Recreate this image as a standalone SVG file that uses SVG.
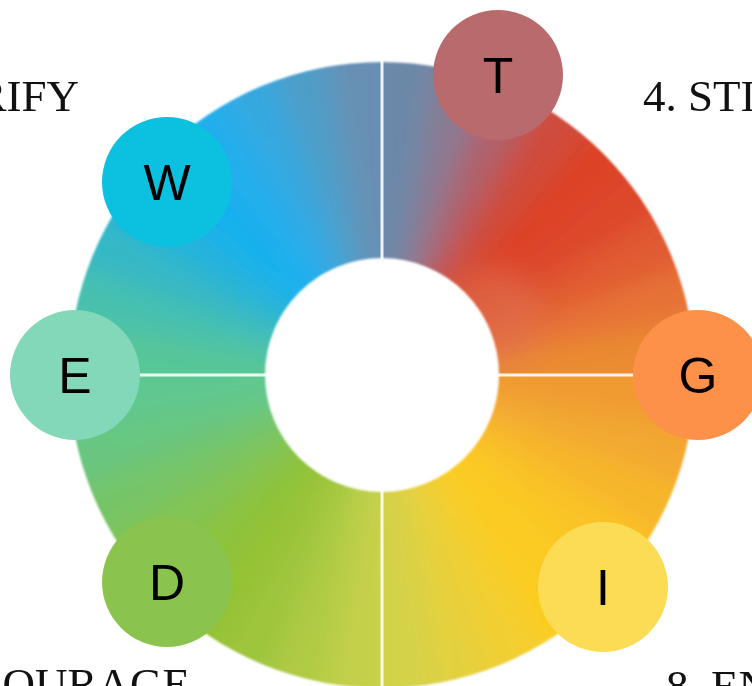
<svg xmlns="http://www.w3.org/2000/svg" width="752" height="686" viewBox="0 0 752 686">
<style>
.lbl{font-family:"Liberation Serif","Times New Roman",serif;font-size:45px;fill:#111}
.let{font-family:"Liberation Sans",Arial,sans-serif;font-size:50px;fill:#000;text-anchor:middle}
.div{stroke:#fff;stroke-width:3;opacity:0.9}
</style>
<defs>
<filter id="blur" x="-20%" y="-20%" width="140%" height="140%"><feGaussianBlur stdDeviation="13"/></filter>
<filter id="soft"><feGaussianBlur stdDeviation="0.8"/></filter>
<clipPath id="cq1"><path d="M382 62 A313 313 0 0 1 695 375 L499 375 A117 117 0 0 0 382 258 Z"/></clipPath>
<clipPath id="cq2"><path d="M695 375 A313 313 0 0 1 382 688 L382 492 A117 117 0 0 0 499 375 Z"/></clipPath>
<clipPath id="cq3"><path d="M382 688 A313 313 0 0 1 69 375 L265 375 A117 117 0 0 0 382 492 Z"/></clipPath>
<clipPath id="cq4"><path d="M69 375 A313 313 0 0 1 382 62 L382 258 A117 117 0 0 0 265 375 Z"/></clipPath>
</defs>
<rect width="752" height="686" fill="#fff"/>

<g id="ring" filter="url(#soft)">
<g clip-path="url(#cq1)"><g filter="url(#blur)">
<path d="M382 375 L202 63.2 L382 15 Z" fill="#6a8aae"/>
<path d="M382 375 L382 15 L444.5 20.5 Z" fill="#6c88a8"/>
<path d="M382 375 L444.5 20.5 L505.1 36.7 Z" fill="#8a7a92"/>
<path d="M382 375 L505.1 36.7 L562 63.2 Z" fill="#b0606a"/>
<path d="M382 375 L562 63.2 L613.4 99.2 Z" fill="#cf4c3a"/>
<path d="M382 375 L613.4 99.2 L657.8 143.6 Z" fill="#dc4228"/>
<path d="M382 375 L657.8 143.6 L693.8 195 Z" fill="#dd4629"/>
<path d="M382 375 L693.8 195 L720.3 251.9 Z" fill="#e05a30"/>
<path d="M382 375 L720.3 251.9 L736.5 312.5 Z" fill="#e67236"/>
<path d="M382 375 L736.5 312.5 L742 375 Z" fill="#ea8a32"/>
<path d="M382 375 L742 375 L693.8 555 Z" fill="#ec8e32"/>
<circle cx="492" cy="318" r="48" fill="#e07050" opacity="0.6"/>
</g></g>
<g clip-path="url(#cq2)"><g filter="url(#blur)">
<path d="M382 375 L693.8 195 L742 375 Z" fill="#f09a32"/>
<path d="M382 375 L742 375 L736.5 437.5 Z" fill="#f09a32"/>
<path d="M382 375 L736.5 437.5 L720.3 498.1 Z" fill="#f3a830"/>
<path d="M382 375 L720.3 498.1 L693.8 555 Z" fill="#f6b62c"/>
<path d="M382 375 L693.8 555 L657.8 606.4 Z" fill="#f9c228"/>
<path d="M382 375 L657.8 606.4 L613.4 650.8 Z" fill="#fbc924"/>
<path d="M382 375 L613.4 650.8 L562 686.8 Z" fill="#fbcc24"/>
<path d="M382 375 L562 686.8 L505.1 713.3 Z" fill="#f2cf30"/>
<path d="M382 375 L505.1 713.3 L444.5 729.5 Z" fill="#e4d03e"/>
<path d="M382 375 L444.5 729.5 L382 735 Z" fill="#d4d24a"/>
<path d="M382 375 L382 735 L202 686.8 Z" fill="#cfd24c"/>
</g></g>
<g clip-path="url(#cq3)"><g filter="url(#blur)">
<path d="M382 375 L562 686.8 L382 735 Z" fill="#cad24c"/>
<path d="M382 375 L382 735 L319.5 729.5 Z" fill="#c4d04a"/>
<path d="M382 375 L319.5 729.5 L258.9 713.3 Z" fill="#b0cb44"/>
<path d="M382 375 L258.9 713.3 L202 686.8 Z" fill="#9fc53c"/>
<path d="M382 375 L202 686.8 L150.6 650.8 Z" fill="#94c236"/>
<path d="M382 375 L150.6 650.8 L106.2 606.4 Z" fill="#8cc23e"/>
<path d="M382 375 L106.2 606.4 L70.2 555 Z" fill="#82c452"/>
<path d="M382 375 L70.2 555 L43.7 498.1 Z" fill="#76c468"/>
<path d="M382 375 L43.7 498.1 L27.5 437.5 Z" fill="#68c680"/>
<path d="M382 375 L27.5 437.5 L22 375 Z" fill="#5ec890"/>
<path d="M382 375 L22 375 L70.2 195 Z" fill="#5cc892"/>
</g></g>
<g clip-path="url(#cq4)"><g filter="url(#blur)">
<path d="M382 375 L70.2 555 L22 375 Z" fill="#5ac894"/>
<path d="M382 375 L22 375 L27.5 312.5 Z" fill="#56c698"/>
<path d="M382 375 L27.5 312.5 L43.7 251.9 Z" fill="#46c0ae"/>
<path d="M382 375 L43.7 251.9 L70.2 195 Z" fill="#34b8c6"/>
<path d="M382 375 L70.2 195 L106.2 143.6 Z" fill="#22b2de"/>
<path d="M382 375 L106.2 143.6 L150.6 99.2 Z" fill="#18b0ee"/>
<path d="M382 375 L150.6 99.2 L202 63.2 Z" fill="#20aeec"/>
<path d="M382 375 L202 63.2 L258.9 36.7 Z" fill="#34a8e0"/>
<path d="M382 375 L258.9 36.7 L319.5 20.5 Z" fill="#4e9ec8"/>
<path d="M382 375 L319.5 20.5 L382 15 Z" fill="#6890b4"/>
<path d="M382 375 L382 15 L562 63.2 Z" fill="#6a8cb0"/>
</g></g>
</g>

<g id="dividers">
<line class="div" x1="382" y1="58" x2="382" y2="259"/>
<line class="div" x1="382" y1="491" x2="382" y2="690"/>
<line class="div" x1="66" y1="375" x2="266" y2="375"/>
<line class="div" x1="498" y1="375" x2="698" y2="375"/>
</g>

<g id="labels">
<text class="lbl" x="79" y="111" text-anchor="end">RIFY</text>
<text class="lbl" x="643" y="111">4. STI</text>
<text class="lbl" x="190" y="699" text-anchor="end">OURAGE</text>
<text class="lbl" x="666" y="701">8. EN</text>
</g>

<g id="node-T"><circle cx="498" cy="75" r="65" fill="#b96a6d"/><text class="let" x="498" y="93">T</text></g>
<g id="node-W"><circle cx="167" cy="182" r="65" fill="#0cc0df"/><text class="let" x="167" y="200">W</text></g>
<g id="node-E"><circle cx="75" cy="375" r="65" fill="#82d8b8"/><text class="let" x="75" y="393">E</text></g>
<g id="node-G"><circle cx="698" cy="375" r="65" fill="#fd914a"/><text class="let" x="698" y="393">G</text></g>
<g id="node-D"><circle cx="167" cy="582" r="65" fill="#8bc34f"/><text class="let" x="167" y="600">D</text></g>
<g id="node-I"><circle cx="603" cy="587" r="65" fill="#fddc55"/><text class="let" x="603" y="605">I</text></g>
</svg>
